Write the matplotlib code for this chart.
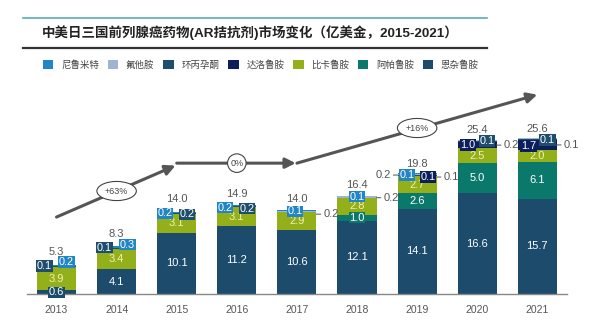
import matplotlib
matplotlib.use('Agg')
import matplotlib.pyplot as plt
import numpy as np
from matplotlib.transforms import offset_copy
from matplotlib.patches import Patch
from matplotlib.lines import Line2D

plt.rcParams['font.family'] = ['Liberation Sans', 'Noto Sans CJK SC']

# ---------------- data ----------------
years = ['2013', '2014', '2015', '2016', '2017', '2018', '2019', '2020', '2021']
enzalutamide = [0.6, 4.1, 10.1, 11.2, 10.6, 12.1, 14.1, 16.6, 15.7]   # 恩杂鲁胺
apalutamide = [0, 0, 0, 0, 0, 1.0, 2.6, 5.0, 6.1]                    # 阿帕鲁胺
bicalutamide = [3.9, 3.4, 3.1, 3.1, 2.9, 2.8, 2.7, 2.5, 2.0]          # 比卡鲁胺
darolutamide = [0, 0, 0, 0, 0, 0, 0.1, 1.0, 1.7]                      # 达洛鲁胺
cyproterone = [0.1, 0.1, 0.2, 0.2, 0, 0, 0.1, 0.1, 0.1]               # 环丙孕酮
flutamide = [0, 0, 0, 0, 0.2, 0.2, 0.2, 0.2, 0.1]                     # 氟他胺
nilutamide = [0.2, 0.3, 0.2, 0.2, 0.1, 0.1, 0.1, 0, 0]                # 尼鲁米特
totals = [5.3, 8.3, 14.0, 14.9, 14.0, 16.4, 19.8, 25.4, 25.6]
growth_labels = ['+63%', '0%', '+16%']
title = '中美日三国前列腺癌药物(AR拮抗剂)市场变化（亿美金，2015-2021）'

# ---------------- styles ----------------
series = [  # bottom -> top
    ('恩杂鲁胺', enzalutamide, '#1c4b6b'),
    ('阿帕鲁胺', apalutamide, '#0b786c'),
    ('比卡鲁胺', bicalutamide, '#93b01b'),
    ('达洛鲁胺', darolutamide, '#0c1f5c'),
    ('环丙孕酮', cyproterone, '#1e4d6e'),
    ('氟他胺', flutamide, '#9fb4d4'),
    ('尼鲁米特', nilutamide, '#2285c6'),
]
legend_order = ['尼鲁米特', '氟他胺', '环丙孕酮', '达洛鲁胺', '比卡鲁胺', '阿帕鲁胺', '恩杂鲁胺']
colors = {n: c for n, _, c in series}
values = {n: v for n, v, _ in series}

# small-label placements: (year idx, series, dx px, dy px from total level, mode)
small_labels = [
    (0, '环丙孕酮', -12, -4, 'box'), (0, '尼鲁米特', 10, 0, 'box'),
    (1, '环丙孕酮', -12, -4, 'box'), (1, '尼鲁米特', 11, -1, 'box'),
    (2, '尼鲁米特', -12, -4, 'box'), (2, '环丙孕酮', 10, -5, 'box'),
    (3, '尼鲁米特', -12, -4, 'box'), (3, '环丙孕酮', 10, -5, 'box'),
    (4, '尼鲁米特', -2, -2, 'box'), (4, '氟他胺', 1, -5, 'out'),
    (5, '尼鲁米特', 0, -2, 'box'), (5, '氟他胺', 1, -3, 'out'),
    (6, '氟他胺', -1, -1, 'out'), (6, '尼鲁米特', -10, -1, 'box'),
    (6, '达洛鲁胺', 11, -3, 'box'), (6, '环丙孕酮', 1, -3, 'out'),
    (7, '达洛鲁胺', -9, -5, 'box'), (7, '环丙孕酮', 10, -1, 'box'), (7, '氟他胺', 1, -5, 'out'),
    (8, '达洛鲁胺', -9, -7, 'box'), (8, '环丙孕酮', 10, -1, 'box'), (8, '氟他胺', 1, -6, 'out'),
]
inside_series = ['恩杂鲁胺', '阿帕鲁胺', '比卡鲁胺']

W, H = 603, 326
fig = plt.figure(figsize=(W / 100, H / 100), dpi=100)
ax = fig.add_axes([27 / W, (H - 294) / H, (567 - 27) / W, (294 - 85) / H])

x = np.arange(len(years))
bw = 0.65
bottom = np.zeros(len(years))
seg_bottom = {}
for name, vals, col in series:
    v = np.array(vals, dtype=float)
    seg_bottom[name] = bottom.copy()
    ax.bar(x, v, bw, bottom=bottom, color=col, edgecolor='none', zorder=2)
    bottom = bottom + v

ax.set_xlim(-0.491, 8.494)
ax.set_ylim(0, 34.5)

# inside labels
for name in inside_series:
    v = values[name]
    for i in range(len(years)):
        if v[i] <= 0:
            continue
        yc = seg_bottom[name][i] + v[i] / 2
        tc = '#f3efb0' if name == '比卡鲁胺' else 'white'
        ax.text(x[i], yc, f'{v[i]:.1f}', ha='center', va='center', fontsize=8, color=tc,
                bbox=dict(boxstyle='square,pad=0.06', fc=colors[name], ec='none'), zorder=4)

# small labels
for i, name, dx, dy, mode in small_labels:
    v = values[name][i]
    if mode == 'box':
        tr = offset_copy(ax.transData, fig=fig, x=dx, y=dy, units='dots')
        ax.text(x[i], totals[i], f'{v:.1f}', transform=tr, ha='center', va='center', fontsize=7.8,
                color='white', bbox=dict(boxstyle='square,pad=0.06', fc=colors[name], ec='none'),
                zorder=5)
    else:
        side = 1 if dx > 0 else -1
        tr = offset_copy(ax.transData, fig=fig, x=0, y=dy, units='dots')
        ax.annotate(f'{v:.1f}', xy=(x[i] + side * bw / 2, totals[i]), xycoords=tr,
                    xytext=(side * 7, 0), textcoords='offset pixels',
                    ha='left' if side > 0 else 'right', va='center', fontsize=8, color='#555555',
                    arrowprops=dict(arrowstyle='-', color='#666666', lw=0.8, shrinkA=0, shrinkB=0),
                    zorder=5)

# totals
for i in range(len(years)):
    tr = offset_copy(ax.transData, fig=fig, x=0, y=10, units='dots')
    ax.text(x[i], totals[i], f'{totals[i]:.1f}', transform=tr, ha='center', va='center',
            fontsize=8, color='#555555')

# trend arrows
acol = '#555555'
ap = dict(arrowstyle='-|>,head_length=0.6,head_width=0.3', color=acol, lw=2.2, shrinkA=0, shrinkB=0)
ax.annotate('', xy=(1.98, 21.2), xytext=(0.0, 12.7), arrowprops=ap)
ax.annotate('', xy=(3.98, 21.6), xytext=(2.0, 21.6), arrowprops=ap)
ax.annotate('', xy=(8.0, 32.9), xytext=(4.0, 21.6), arrowprops=ap)
ax.text(1.0, 17.0, growth_labels[0], ha='center', va='center', fontsize=6.5, color='#444444',
        bbox=dict(boxstyle='ellipse,pad=0.25', fc='white', ec='#444444', lw=0.8), zorder=6)
ax.text(3.0, 21.6, growth_labels[1], ha='center', va='center', fontsize=6.5, color='#444444',
        bbox=dict(boxstyle='circle,pad=0.3', fc='white', ec='#444444', lw=0.8), zorder=6)
ax.text(6.0, 27.4, growth_labels[2], ha='center', va='center', fontsize=6.5, color='#444444',
        bbox=dict(boxstyle='ellipse,pad=0.25', fc='white', ec='#444444', lw=0.8), zorder=6)

# axes styling
for s in ['top', 'right', 'left']:
    ax.spines[s].set_visible(False)
ax.spines['bottom'].set_color('#888888')
ax.spines['bottom'].set_linewidth(1.0)
ax.set_yticks([])
ax.set_xticks(x)
ax.set_xticklabels(years, fontsize=7.5, color='#555555')
ax.tick_params(axis='x', length=0, pad=8)

# title & rules
fig.add_artist(Line2D([23 / W, 487 / W], [1 - 18 / H] * 2, color='#5aaeae', lw=1.2))
fig.add_artist(Line2D([23 / W, 487 / W], [1 - 47.5 / H] * 2, color='#333333', lw=1.6))
fig.text(42 / W, 1 - 33 / H, title, fontsize=9.7, fontweight='bold', color='#222222',
         ha='left', va='center')

# legend
handles = [Patch(facecolor=colors[n], edgecolor='none') for n in legend_order]
fig.legend(handles, legend_order, ncol=7, loc='center left', bbox_to_anchor=(43 / W, 1 - 65 / H),
           frameon=False, fontsize=6.8, handlelength=1.1, handleheight=1.1, handletextpad=0.8,
           columnspacing=0.95, labelcolor='#444444', borderpad=0, borderaxespad=0)

fig.savefig('out.png', dpi=100)
